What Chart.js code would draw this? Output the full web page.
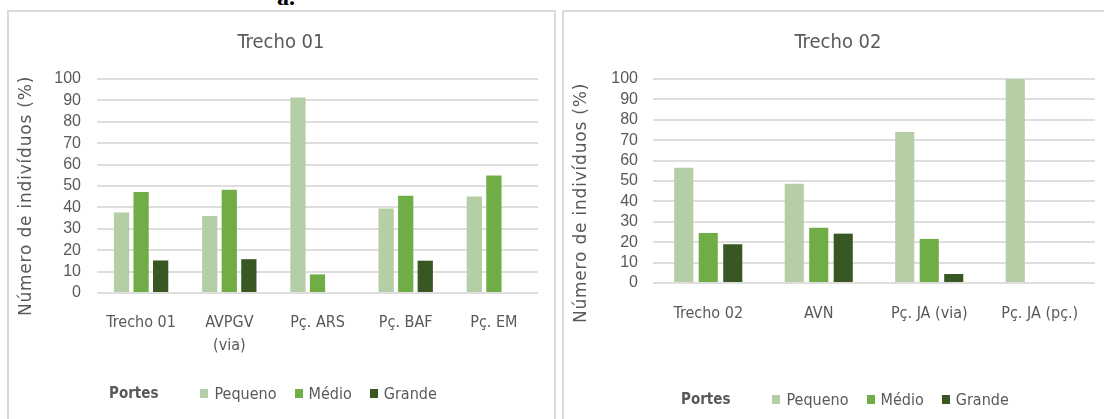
<!DOCTYPE html>
<html lang="pt-BR">
<head>
<meta charset="utf-8">
<title>Portes por trecho</title>
<script src="https://cdn.jsdelivr.net/npm/chart.js@4.4.1/dist/chart.umd.min.js"></script>
<style>
  html, body { margin: 0; padding: 0; background: #fff; }
  #page { position: relative; width: 1104px; height: 419px; overflow: hidden; background: #fff; }
  .figlabel { position: absolute; left: 246px; top: -15px; width: 80px; text-align: center;
              font: bold 24px/24px 'Liberation Serif', 'DejaVu Serif', serif; color: #000; }
  .panel { position: absolute; top: 10px; height: 440px; border: 2px solid #dadada; box-sizing: border-box; background: #fff; }
  #panel1 { left: 7px; width: 549px; }
  #panel2 { left: 562px; width: 560px; }
  .panel canvas { position: absolute; left: 0; top: 0; }
  .legend { position: absolute; display: flex; align-items: center; height: 24px;
            font-family: 'DejaVu Sans Condensed', 'Liberation Sans', sans-serif; font-size: 16px; color: #595959; white-space: nowrap; }
  .legend .ltitle { font-weight: bold; font-size: 15px; margin-right: 42px; }
  .legend .item { display: flex; align-items: center; margin-right: 18px; }
  .legend .box { width: 8px; height: 9px; margin-right: 6px; }
</style>
</head>
<body>
<div id="page">
  <div class="figlabel">a.</div>
  <div class="panel" id="panel1">
    <canvas id="chart1" width="545" height="407"></canvas>
    <div class="legend" id="legend1" style="left:100px; top:369px;"></div>
  </div>
  <div class="panel" id="panel2">
    <canvas id="chart2" width="540" height="407"></canvas>
    <div class="legend" id="legend2" style="left:117px; top:375px;"></div>
  </div>
</div>
<script>
// Size classes (legend entries) and their colours
const portes = ['Pequeno', 'Médio', 'Grande'];
const coresPortes = ['#b5cea6', '#70ad47', '#385723'];
const tituloLegenda = 'Portes';

// Trecho 01: sampling sites and share of individuals (%) per size class
const locaisTrecho01 = ['Trecho 01', ['AVPGV', '(via)'], 'Pç. ARS', 'Pç. BAF', 'Pç. EM'];
const pequenoTrecho01 = [37.6, 36.0, 91.3, 39.5, 45.1];
const medioTrecho01   = [47.2, 48.2, 8.7, 45.4, 54.9];
const grandeTrecho01  = [15.2, 15.8, 0, 15.1, 0];

// Trecho 02: sampling sites and share of individuals (%) per size class
const locaisTrecho02 = ['Trecho 02', 'AVN', 'Pç. JA (via)', 'Pç. JA (pç.)'];
const pequenoTrecho02 = [56.5, 48.7, 74.0, 100];
const medioTrecho02   = [24.5, 27.1, 21.6, 0];
const grandeTrecho02  = [19.0, 24.2, 4.4, 0];

// Shared value-axis settings
const ticksY = { min: 0, max: 100, step: 10 };
const tituloEixoY = 'Número de indivíduos (%)';

const cinzaTexto = '#595959';
const cinzaGrade = '#dedede';
const fonteEstreita = "'DejaVu Sans Condensed', 'Liberation Sans', sans-serif";

function buildLegend(el) {
  const t = document.createElement('span');
  t.className = 'ltitle';
  t.textContent = tituloLegenda;
  el.appendChild(t);
  portes.forEach((nome, i) => {
    const item = document.createElement('span');
    item.className = 'item';
    const box = document.createElement('span');
    box.className = 'box';
    box.style.background = coresPortes[i];
    const txt = document.createElement('span');
    txt.textContent = nome;
    item.appendChild(box);
    item.appendChild(txt);
    el.appendChild(item);
  });
}

// Rotated, letter-spaced value-axis title drawn next to the y scale
const yAxisTitle = {
  id: 'yAxisTitle',
  afterDraw(chart, args, opts) {
    const { ctx } = chart;
    ctx.save();
    ctx.translate(opts.x, opts.y);
    ctx.rotate(-Math.PI / 2);
    ctx.font = "17px 'DejaVu Sans', sans-serif";
    ctx.letterSpacing = '0.8px';
    ctx.fillStyle = cinzaTexto;
    ctx.textAlign = 'center';
    ctx.textBaseline = 'middle';
    ctx.fillText(opts.text, 0, 0);
    ctx.restore();
  }
};

function makeChart(canvasId, titulo, locais, series, geo) {
  return new Chart(document.getElementById(canvasId), {
    type: 'bar',
    data: {
      labels: locais,
      datasets: portes.map((nome, i) => ({
        label: nome,
        data: series[i],
        backgroundColor: coresPortes[i],
        borderWidth: 0,
        categoryPercentage: 0.665,
        barPercentage: 0.78
      }))
    },
    plugins: [yAxisTitle],
    options: {
      responsive: false,
      animation: false,
      layout: { padding: { left: geo.padLeft, right: geo.padRight, top: 0, bottom: 0 } },
      plugins: {
        legend: { display: false },
        tooltip: { enabled: false },
        title: {
          display: true,
          text: titulo,
          color: cinzaTexto,
          font: { family: fonteEstreita, size: 20, weight: 'normal' },
          padding: { top: 19, bottom: 24 }
        },
        yAxisTitle: { text: tituloEixoY, x: 18, y: geo.yTitleCenter }
      },
      scales: {
        x: {
          grid: { display: false },
          border: { display: false },
          ticks: {
            color: cinzaTexto,
            font: { family: fonteEstreita, size: 16, lineHeight: 1.4 },
            padding: geo.xPad,
            maxRotation: 0,
            autoSkip: false
          },
          afterFit: (s) => { s.height = geo.xHeight; }
        },
        y: {
          min: ticksY.min,
          max: ticksY.max,
          grid: { color: cinzaGrade, lineWidth: 2, drawTicks: false },
          border: { display: false },
          ticks: {
            stepSize: ticksY.step,
            autoSkip: false,
            color: cinzaTexto,
            font: { family: "'Liberation Sans', Arial, sans-serif", size: 16 },
            padding: geo.yPad
          },
          afterFit: (s) => { s.width = geo.yWidth; }
        }
      }
    }
  });
}

makeChart('chart1', 'Trecho 01', locaisTrecho01,
  [pequenoTrecho01, medioTrecho01, grandeTrecho01],
  { padLeft: 15, padRight: 16, yWidth: 73, xHeight: 126, xPad: 11, yPad: 16, yTitleCenter: 184 });

makeChart('chart2', 'Trecho 02', locaisTrecho02,
  [pequenoTrecho02, medioTrecho02, grandeTrecho02],
  { padLeft: 17, padRight: 9, yWidth: 72, xHeight: 136, xPad: 12, yPad: 15, yTitleCenter: 191 });

buildLegend(document.getElementById('legend1'));
buildLegend(document.getElementById('legend2'));
</script>
</body>
</html>
